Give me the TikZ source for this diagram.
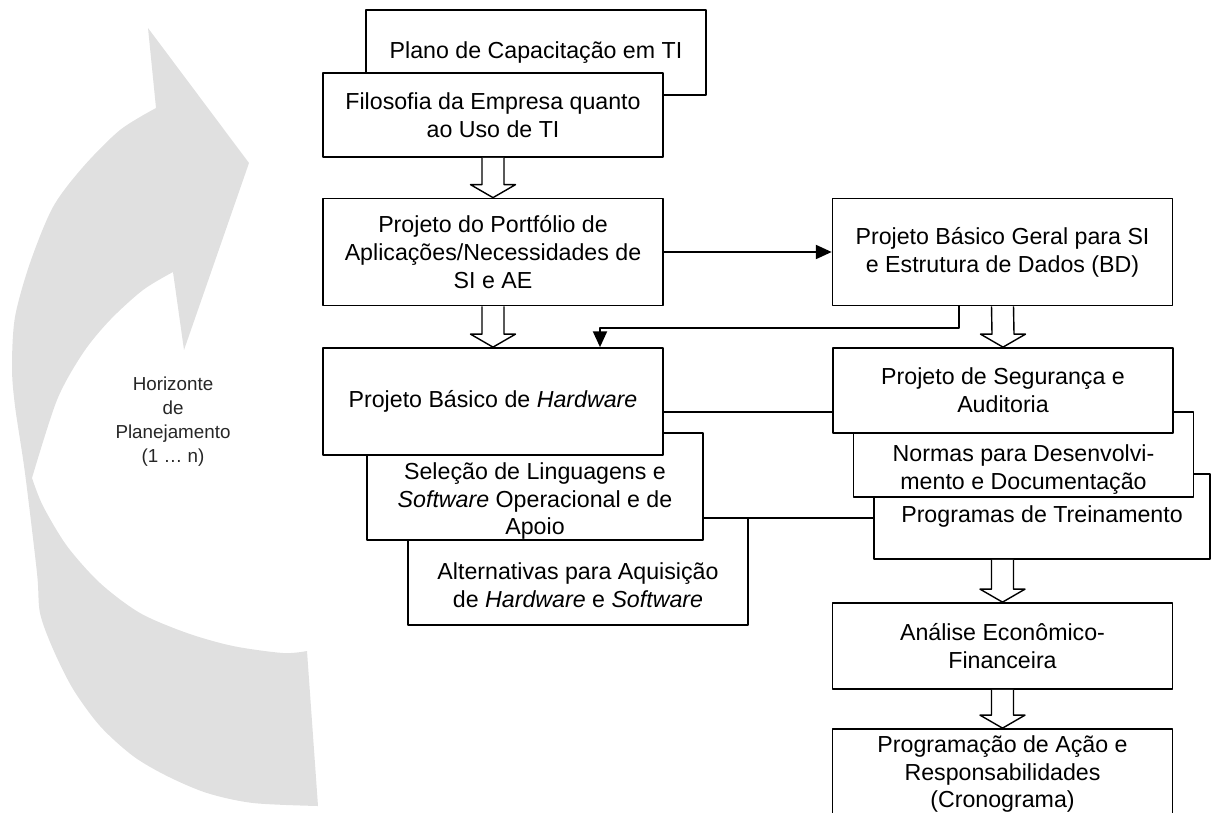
\documentclass[tikz,border=0pt]{standalone}
\usepackage{fontspec}
\setmainfont{Liberation Sans}
\usetikzlibrary{calc}
\usetikzlibrary{arrows.meta}

% hollow block arrow from #1 (top of shaft) to #2 (tip)
\newcommand{\fatarrow}[2]{%
  \draw[fat] ($(#1)+(-11,0)$) -- ($(#2)+(-11,-13)$) -- ($(#2)+(-22.5,-13)$) -- (#2)
    -- ($(#2)+(22.5,-13)$) -- ($(#2)+(11,-13)$) -- ($(#1)+(11,0)$);}

\begin{document}
\begin{tikzpicture}[x=0.02cm, y=-0.02cm, line join=round, >={Triangle[length=9pt,width=8pt]},
  box/.style={draw, line width=1pt, fill=white, inner sep=2pt, minimum width=6.8cm,
    minimum height=1.7cm, align=center, font=\fontsize{13.2}{15.9}\selectfont},
  tall/.style={minimum height=2.14cm},
  txt/.style={align=center, font=\fontsize{13.2}{15.9}\selectfont},
  wire/.style={line width=1pt},
  fat/.style={line width=0.8pt, fill=white}]
  \useasboundingbox (0,0) rectangle (1212,812);
  %--- Planning horizon arrow
    \fill[black!12] (156,108) -- (148,28) -- (249,163) -- (184,350) -- (173,272)
      -- plot[smooth] coordinates {(173,272) (143,290) (110,320) (83,353) (57,400) (32,478)}
      -- plot[smooth] coordinates {(32,478) (43,506) (67,546) (100,583) (140,613) (187,633) (233,646) (283,653) (307,651)}
      -- (318,806)
      -- plot[smooth] coordinates {(318,806) (253,803) (207,793) (167,776) (133,756) (100,726) (73,689) (53,649) (40,613) (37,573) (25,473) (15,406) (12,367) (15,317) (30,263) (53,207) (83,167) (120,130) (156,108)}
      -- cycle;
    \node[align=center, text=black!85, font=\fontsize{10.7}{13.7}\selectfont] (hor) at (173,422)
      {Horizonte\\de\\Planejamento\\(1 … n)};
  %--- Top pair
    \node[box] (plano) at (536,52.5) {Plano de Capacitação em TI};
    \node[box, minimum height=1.68cm] (filo) at (493,115) {Filosofia da Empresa quanto\\ao Uso de TI};
  %--- Portfolio and BD
    \node[box, tall] (port) at (493,252) {Projeto do Portfólio de\\Aplicações/Necessidades de\\SI e AE};
    \node[box, tall] (bd) at (1002.5,252) {Projeto Básico Geral para SI\\e Estrutura de Dados (BD)};
  %--- Left stack
    \node[box, tall] (alt) at (578,571.5) {};
    \node[txt] (alt-t) at ($(alt)+(0,13.5)$) {Alternativas para Aquisição\\de \textit{Hardware} e \textit{Software}};
    \node[box, tall, minimum width=6.72cm] (sel) at (535,486.5) {};
    \node[txt] (sel-t) at ($(sel)+(0,14.5)$) {Seleção de Linguagens e\\\textit{Software} Operacional e de\\Apoio};
    \node[box, tall] (hw) at (493,401.5) {Projeto Básico de \textit{Hardware}};
  %--- Right stack
    \node[box, minimum width=6.72cm] (prog) at (1042,516.5) {Programas de Treinamento};
    \node[box] (norm) at (1023.5,454.5) {};
    \node[txt] (norm-t) at ($(norm)+(0,15.5)$) {Normas para Desenvolvi-\\mento e Documentação};
    \node[box] (seg) at (1003,390.5) {Projeto de Segurança e\\Auditoria};
  %--- Bottom
    \node[box, minimum height=1.72cm] (ana) at (1002.5,646) {Análise Econômico-\\Financeira};
    \node[box, minimum height=1.8cm] (crono) at (1002.5,774) {Programação de Ação e\\Responsabilidades\\(Cronograma)};
  %--- Connectors
    \draw[wire, ->] (port.east) -- (bd.west);
    \draw[wire, ->] ($(bd.south)+(-43.5,0)$) -- ++(0,22) -| ($(hw.north)+(107,0)$);
    \draw[wire] ($(hw.east)+(0,10.5)$) coordinate (h1) -- (h1 -| seg.west);
    \draw[wire] ($(sel.east)+(0,31.5)$) coordinate (s1) -- (s1 -| prog.west);
  %--- Block arrows
    \fatarrow{filo.south}{port.north}
    \fatarrow{port.south}{hw.north}
    \fatarrow{bd.south}{seg.north}
    \fatarrow{ana.north |- prog.south}{ana.north}
    \fatarrow{ana.south}{crono.north}
\end{tikzpicture}
\end{document}
